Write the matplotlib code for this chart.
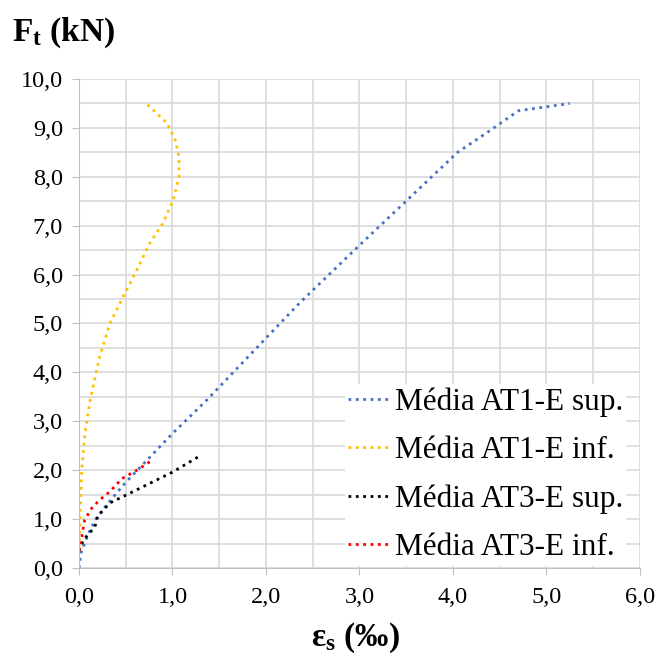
import matplotlib.pyplot as plt
import numpy as np
from matplotlib.ticker import MultipleLocator, FuncFormatter

# Média AT1-E sup.
at1_sup_x = [0.0, 0.02, 0.1, 0.18, 0.3, 0.5, 0.76, 1.0, 1.37, 2.36, 3.0, 4.05, 4.4, 4.7, 5.25]
at1_sup_y = [0.0, 0.3, 0.7, 1.0, 1.3, 1.75, 2.27, 2.75, 3.44, 5.42, 6.6, 8.5, 8.95, 9.35, 9.5]
# Média AT1-E inf.
at1_inf_x = [0.0, 0.01, 0.03, 0.064, 0.12, 0.22, 0.33, 0.47, 0.62, 0.76, 0.9, 1.01, 1.07, 1.07, 1.03, 0.94, 0.72]
at1_inf_y = [0.4, 1.0, 2.0, 2.76, 3.44, 4.31, 5.0, 5.54, 6.1, 6.65, 7.06, 7.53, 8.0, 8.41, 8.75, 9.1, 9.5]
# Média AT3-E sup.
at3_sup_x = [0.0, 0.02, 0.064, 0.17, 0.19, 0.2, 0.33, 0.62, 1.0, 1.3]
at3_sup_y = [0.35, 0.47, 0.61, 0.84, 0.98, 1.06, 1.33, 1.6, 1.96, 2.3]
# Média AT3-E inf.
at3_inf_x = [0.0, 0.03, 0.06, 0.135, 0.22, 0.33, 0.46, 0.62, 0.78]
at3_inf_y = [0.34, 0.64, 0.98, 1.22, 1.39, 1.56, 1.83, 2.0, 2.2]

labels = ['Média AT1-E sup.', 'Média AT1-E inf.', 'Média AT3-E sup.', 'Média AT3-E inf.']

plt.rcParams['font.family'] = ['Liberation Serif', 'DejaVu Serif']
plt.rcParams['mathtext.fontset'] = 'custom'
plt.rcParams['mathtext.rm'] = 'Liberation Serif'
plt.rcParams['mathtext.it'] = 'Liberation Serif:italic'
plt.rcParams['mathtext.bf'] = 'Liberation Serif:bold'

fig = plt.figure(figsize=(6.55, 6.57), dpi=100)
ax = fig.add_axes([0.1206, 0.1355, 0.8564, 0.7443])

lw = 2.0
ax.plot(at1_sup_x, at1_sup_y, color='#4472C4', linestyle=':', linewidth=lw, label=labels[0])
ax.plot(at1_inf_x, at1_inf_y, color='#FFC000', linestyle=':', linewidth=lw, label=labels[1])
ax.plot(at3_sup_x, at3_sup_y, color='black', linestyle=':', linewidth=lw, label=labels[2])
ax.plot(at3_inf_x, at3_inf_y, color='#FF0000', linestyle=':', linewidth=lw, label=labels[3])

ax.set_xlim(0, 6)
ax.set_ylim(0, 10)
ax.xaxis.set_major_locator(MultipleLocator(1))
ax.yaxis.set_major_locator(MultipleLocator(1))
ax.xaxis.set_minor_locator(MultipleLocator(0.5))
ax.yaxis.set_minor_locator(MultipleLocator(0.5))
fmt = FuncFormatter(lambda v, p: f'{v:.1f}'.replace('.', ','))
ax.xaxis.set_major_formatter(fmt)
ax.yaxis.set_major_formatter(fmt)
ax.grid(True, which='both', color='#d9d9d9', linewidth=1.2)
ax.set_axisbelow(True)
ax.tick_params(which='major', length=5, color='#bfbfbf', labelsize=17.5)
ax.tick_params(axis='x', pad=8.5)
ax.tick_params(axis='y', pad=6.5)
ax.tick_params(which='minor', length=0)
for s in ['top', 'right']:
    ax.spines[s].set_visible(False)
for s in ['left', 'bottom']:
    ax.spines[s].set_color('#bfbfbf')

leg = ax.legend(loc='lower right', bbox_to_anchor=(0.975, 0.005), fontsize=22.5, frameon=True,
                handlelength=1.3, handletextpad=0.2, labelspacing=0.62, borderaxespad=0.0,
                borderpad=0.1, fancybox=False)
leg.get_frame().set_edgecolor('none')
leg.get_frame().set_facecolor('white')
leg.get_frame().set_alpha(1)

fig.text(0.018, 0.95, r'$\mathbf{F}_\mathbf{t}$ (kN)', fontsize=24, fontweight='bold', va='center')
fig.text(0.542, 0.030, r'$\mathbf{\varepsilon}_\mathbf{s}$ (‰)', fontsize=24, fontweight='bold',
         ha='center', va='center')

plt.savefig('out.png', dpi=100)
